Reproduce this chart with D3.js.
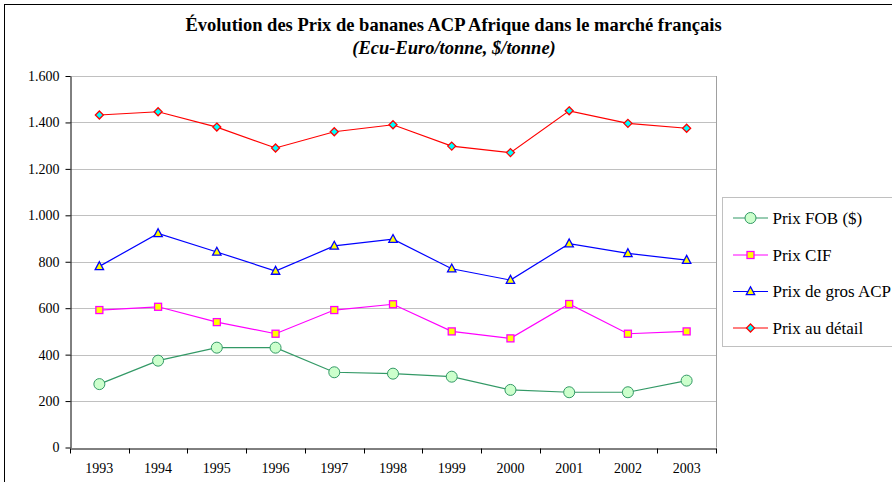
<!DOCTYPE html>
<html><head><meta charset="utf-8">
<script src="https://cdn.jsdelivr.net/npm/d3@7"></script>
<style>
body{margin:0;background:#fff;}
svg{display:block;}
svg text{font-family:"Liberation Serif","Times New Roman",Times,serif;}
</style></head>
<body><svg id="c" width="892" height="482"></svg>
<script>
const years = ["1993","1994","1995","1996","1997","1998","1999","2000","2001","2002","2003"];
const fob    = [273, 374, 430, 430, 324, 318, 305, 248, 238, 238, 288];
const cif    = [592, 606, 540, 490, 592, 617, 500, 470, 618, 490, 500];
const gros   = [780, 922, 842, 760, 868, 897, 770, 721, 878, 836, 807];
const detail = [1432, 1446, 1380, 1290, 1360, 1390, 1298, 1270, 1450, 1396, 1375];
const yTicks = [0, 200, 400, 600, 800, 1000, 1200, 1400, 1600];
const seriesNames = ["Prix FOB ($)", "Prix CIF", "Prix de gros ACP", "Prix au détail"];
const title = "Évolution des Prix de bananes ACP Afrique dans le marché français";
const subtitle = "(Ecu-Euro/tonne, $/tonne)";

const series = [
  {name: seriesNames[0], values: fob,    line: "#339966", fill: "#ccffcc", stroke: "#339966", shape: "circle"},
  {name: seriesNames[1], values: cif,    line: "#ff00ff", fill: "#ffff00", stroke: "#ff00ff", shape: "square"},
  {name: seriesNames[2], values: gros,   line: "#0000ff", fill: "#ffff00", stroke: "#0000ff", shape: "triangle"},
  {name: seriesNames[3], values: detail, line: "#ff0000", fill: "#00ffff", stroke: "#ff0000", shape: "diamond"}
];

const FF = '"Liberation Serif","Times New Roman",Times,serif';
const svg = d3.select("#c");
const L = 70, R = 716, T = 76, B = 447.5;

svg.append("rect").attr("x",4.5).attr("y",4.5).attr("width",900).attr("height",490)
  .attr("fill","#fff").attr("stroke","#000").attr("stroke-width",1);

svg.append("text").attr("x",453.5).attr("y",30.5).attr("text-anchor","middle").attr("font-family",FF)
  .attr("font-size",18.5).attr("font-weight","bold").text(title);
svg.append("text").attr("x",454).attr("y",54).attr("text-anchor","middle").attr("font-family",FF)
  .attr("font-size",18.5).attr("font-weight","bold").attr("font-style","italic").text(subtitle);

const x = d3.scaleBand().domain(years).range([L, R]);
const y = d3.scaleLinear().domain([0, 1600]).range([B, T]);

svg.append("g").selectAll("line").data(yTicks.filter(d=>d>0)).join("line")
  .attr("x1",L).attr("x2",R).attr("y1",d=>Math.round(y(d))+0.5).attr("y2",d=>Math.round(y(d))+0.5)
  .attr("stroke","#c0c0c0").attr("stroke-width",1);
svg.append("line").attr("x1",R+0.5).attr("x2",R+0.5).attr("y1",T).attr("y2",B)
  .attr("stroke","#a0a0a0");

const fmt = d3.formatLocale({decimal:",", thousands:".", grouping:[3], currency:["","€"]}).format(",d");
const yAxis = svg.append("g").attr("transform",`translate(${L+0.5},0)`)
  .call(d3.axisLeft(y).tickValues(yTicks).tickFormat(fmt).tickSize(5).tickSizeOuter(0).tickPadding(3));
yAxis.attr("font-family",FF).attr("font-size",14);
yAxis.selectAll("text").attr("fill","#000").attr("dx",-3);
yAxis.select(".domain").attr("stroke","#000");

const xAxis = svg.append("g").attr("transform",`translate(0,${Math.round(B)+0.5})`)
  .call(d3.axisBottom(x).tickSize(0).tickPadding(15));
xAxis.attr("font-family",FF).attr("font-size",14);
xAxis.selectAll("text").attr("fill","#000");
xAxis.select(".domain").attr("stroke","#000");
const edges = years.map(d=>x(d)).concat([x(years[years.length-1])+x.bandwidth()]);
xAxis.append("g").selectAll("line").data(edges).join("line")
  .attr("x1",d=>Math.round(d)+0.5).attr("x2",d=>Math.round(d)+0.5).attr("y1",0).attr("y2",5).attr("stroke","#000");

function marker(g, s, cx, cy){
  if (s.shape==="circle"){
    g.append("circle").attr("cx",cx).attr("cy",cy).attr("r",5.5)
      .attr("fill",s.fill).attr("stroke",s.stroke).attr("stroke-width",1);
  } else if (s.shape==="square"){
    const h=3.5;
    g.append("rect").attr("x",cx-h).attr("y",cy-h).attr("width",2*h).attr("height",2*h)
      .attr("fill",s.fill).attr("stroke",s.stroke).attr("stroke-width",1.3);
  } else if (s.shape==="triangle"){
    const h=4.2;
    g.append("path").attr("d",`M${cx},${cy-h-0.5}L${cx+h},${cy+h-1}L${cx-h},${cy+h-1}Z`)
      .attr("fill",s.fill).attr("stroke",s.stroke).attr("stroke-width",1.3);
  } else {
    const h=4;
    g.append("path").attr("d",`M${cx},${cy-h}L${cx+h},${cy}L${cx},${cy+h}L${cx-h},${cy}Z`)
      .attr("fill",s.fill).attr("stroke",s.stroke).attr("stroke-width",1.3);
  }
}

const cxOf = d => x(d) + x.bandwidth()/2;
series.forEach(s=>{
  const line = d3.line().x((v,i)=>cxOf(years[i])).y(v=>y(v));
  svg.append("path").datum(s.values).attr("d",line).attr("fill","none")
    .attr("stroke",s.line).attr("stroke-width",1.2);
  const g = svg.append("g");
  s.values.forEach((v,i)=>marker(g, s, cxOf(years[i]), y(v)));
});

const lg = svg.append("g");
lg.append("rect").attr("x",722.5).attr("y",197.5).attr("width",200).attr("height",149)
  .attr("fill","#fff").attr("stroke","#c0c0c0").attr("stroke-width",1);
const ly = [218, 255, 291.5, 328];
series.forEach((s,i)=>{
  lg.append("line").attr("x1",733).attr("x2",768).attr("y1",ly[i]).attr("y2",ly[i])
    .attr("stroke",s.line).attr("stroke-width",1.2);
  marker(lg, s, 750.5, ly[i]);
  lg.append("text").attr("x",772.5).attr("y",ly[i]+5.8).attr("font-family",FF).attr("font-size",17).text(s.name);
});
</script></body></html>
